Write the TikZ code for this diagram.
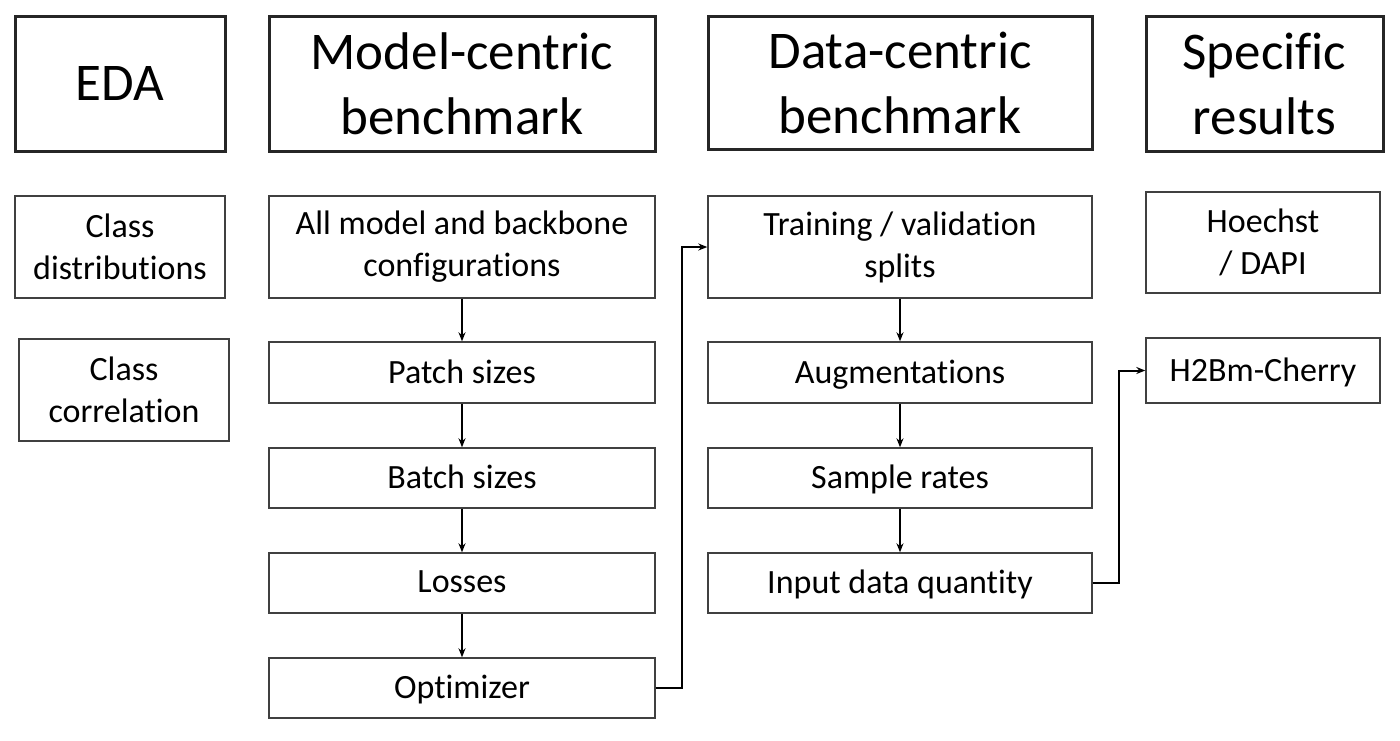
\documentclass[tikz,border=0pt]{standalone}
\usepackage{fontspec}
\setmainfont[Ligatures={NoCommon,NoRequired,NoContextual}]{Carlito}
\usetikzlibrary{arrows.meta}
\begin{document}
\begin{tikzpicture}[x=1pt,y=-1pt,
  hdr/.style={draw=black!85,line width=3pt,align=center,inner sep=0pt,
    font=\fontsize{53}{65}\selectfont,text=black},
  itm/.style={draw=black!75,line width=1.4pt,align=center,inner sep=0pt,
    font=\fontsize{34}{42}\selectfont,text=black},
  conn/.style={draw=black,line width=2pt,-{Stealth[length=9pt,width=7pt]}}]
\useasboundingbox (0,0) rectangle (1400,740);
% headers
\node[hdr,minimum width=210pt,minimum height=135pt] (eda) at (120,83.5) {EDA};
\node[hdr,minimum width=386pt,minimum height=135pt] (mc) at (462,83.5) {Model-centric\\benchmark};
\node[hdr,minimum width=384pt,minimum height=133pt] (dc) at (900,82.5) {Data-centric\\benchmark};
\node[hdr,minimum width=237pt,minimum height=135pt] (sr) at (1264.5,83.5) {Specific\\results};
% EDA
\node[itm,minimum width=210pt,minimum height=102pt] (cd) at (120,247) {Class\\distributions};
\node[itm,minimum width=210pt,minimum height=102pt] (cc) at (124,390) {Class\\correlation};
% model-centric
\node[itm,minimum width=386pt,minimum height=102pt] (m1) at (462,247) {All model and backbone\\configurations};
\node[itm,minimum width=386pt,minimum height=61pt,text depth=2pt] (m2) at (462,372.5) {Patch sizes};
\node[itm,minimum width=386pt,minimum height=60pt,text depth=2pt] (m3) at (462,478) {Batch sizes};
\node[itm,minimum width=386pt,minimum height=60pt,text depth=2pt] (m4) at (462,583) {Losses};
\node[itm,minimum width=386pt,minimum height=60pt,text depth=2pt] (m5) at (462,688) {Optimizer};
% data-centric
\node[itm,minimum width=384pt,minimum height=102pt] (d1) at (900,247) {Training / validation\\splits};
\node[itm,minimum width=384pt,minimum height=61pt,text depth=2pt] (d2) at (900,372.5) {Augmentations};
\node[itm,minimum width=384pt,minimum height=60pt,text depth=2pt] (d3) at (900,478) {Sample rates};
\node[itm,minimum width=384pt,minimum height=60pt,text depth=2pt] (d4) at (900,583) {Input data quantity};
% specific results
\node[itm,minimum width=234pt,minimum height=101pt] (s1) at (1263,242.5) {Hoechst\\/ DAPI};
\node[itm,minimum width=234pt,minimum height=65pt,text depth=2pt] (s2) at (1263,370.5) {H2Bm-Cherry};
% connectors
\draw[conn] (m1) -- (m2);
\draw[conn] (m2) -- (m3);
\draw[conn] (m3) -- (m4);
\draw[conn] (m4) -- (m5);
\draw[conn] (d1) -- (d2);
\draw[conn] (d2) -- (d3);
\draw[conn] (d3) -- (d4);
\draw[conn] (m5.east) -- (682,688) |- (d1.west);
\draw[conn] (d4.east) -- (1119,583) |- (s2.west);
\end{tikzpicture}
\end{document}
